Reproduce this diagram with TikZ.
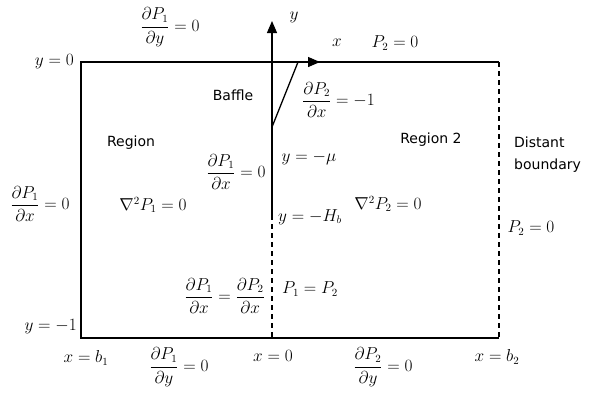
\documentclass[tikz,border=0pt]{standalone}
\usepackage{amsmath}
\usepackage{fontspec}
\newfontfamily\sansf{DejaVu Sans}
\usetikzlibrary{arrows.meta}
\begin{document}
\begin{tikzpicture}[x=1pt,y=-1pt,
  lbl/.style={font=\fontsize{16}{18}\selectfont, inner sep=0pt},
  sl/.style={font=\sansf\fontsize{14}{22}\selectfont, inner sep=0pt, align=left},
  bound/.style={line width=1.3pt},
  dsh/.style={line width=1.3pt, dash pattern=on 5pt off 4pt},
  tip/.style={-{Triangle[length=12pt,width=10pt]}}]
\useasboundingbox[fill=white] (0,0) rectangle (592,392);
\coordinate (TL) at (81,62);
\coordinate (BL) at (81,338);
\coordinate (BR) at (499,338);
\coordinate (TR) at (499,62);
\coordinate (O) at (272,62);
\coordinate (Ytip) at (272,21);
\coordinate (Xtip) at (320,62);
\coordinate (Mu) at (272,127);
\coordinate (Hb) at (272,215);
\coordinate (B0) at (272,338);
\coordinate (S) at (298,62);
% boundary
\draw[bound] (TR) -- (TL) -- (BL) -- (BR);
\draw[dsh] (TR) -- (BR);
\draw[dsh] (Hb) -- (B0);
% axes and baffle
\draw[bound,tip] (Hb) -- (Ytip);
\draw[bound,tip] (O) -- (Xtip);
\draw[bound] (Mu) -- (S);
% labels
\node[lbl] (ly) at (294,17) {$y$};
\node[lbl] (lx) at (337,43) {$x$};
\node[lbl] (ltopp) at (395,43) {$P_2=0$};
\node[lbl] (ltop1) at (170,27) {$\dfrac{\partial P_1}{\partial y}=0$};
\node[lbl, anchor=east] (ly0) at (74,62) {$y=0$};
\node[sl] (baffle) at (233,95) {Baffle};
\node[lbl, anchor=west] (ldp2) at (302,100) {$\dfrac{\partial P_2}{\partial x}=-1$};
\node[sl] (reg1) at (131,143) {Region};
\node[sl] (reg2) at (431,140) {Region 2};
\node[sl, anchor=west] (dist) at (514,155) {Distant\\boundary};
\node[lbl] (lmu) at (309,158) {$y=-\mu$};
\node[lbl] (ldx1b) at (236,172) {$\dfrac{\partial P_1}{\partial x}=0$};
\node[lbl] (ldx1l) at (40,204) {$\dfrac{\partial P_1}{\partial x}=0$};
\node[lbl] (lap1) at (153,205) {$\nabla^2 P_1=0$};
\node[lbl] (lhb) at (310,217) {$y=-H_b$};
\node[lbl] (lap2) at (388,204) {$\nabla^2 P_2=0$};
\node[lbl] (lp2r) at (531,228) {$P_2=0$};
\node[lbl, anchor=east] (lcont) at (265,296) {$\dfrac{\partial P_1}{\partial x}=\dfrac{\partial P_2}{\partial x}$};
\node[lbl] (leq) at (310,289) {$P_1=P_2$};
\node[lbl, anchor=east] (lym1) at (77,327) {$y=-1$};
\node[lbl] (lxb1) at (86,358) {$x=b_1$};
\node[lbl] (lbot1) at (179,367) {$\dfrac{\partial P_1}{\partial y}=0$};
\node[lbl] (lx0) at (273,356) {$x=0$};
\node[lbl] (lbot2) at (383,367) {$\dfrac{\partial P_2}{\partial y}=0$};
\node[lbl] (lxb2) at (497,357) {$x=b_2$};
\end{tikzpicture}
\end{document}
